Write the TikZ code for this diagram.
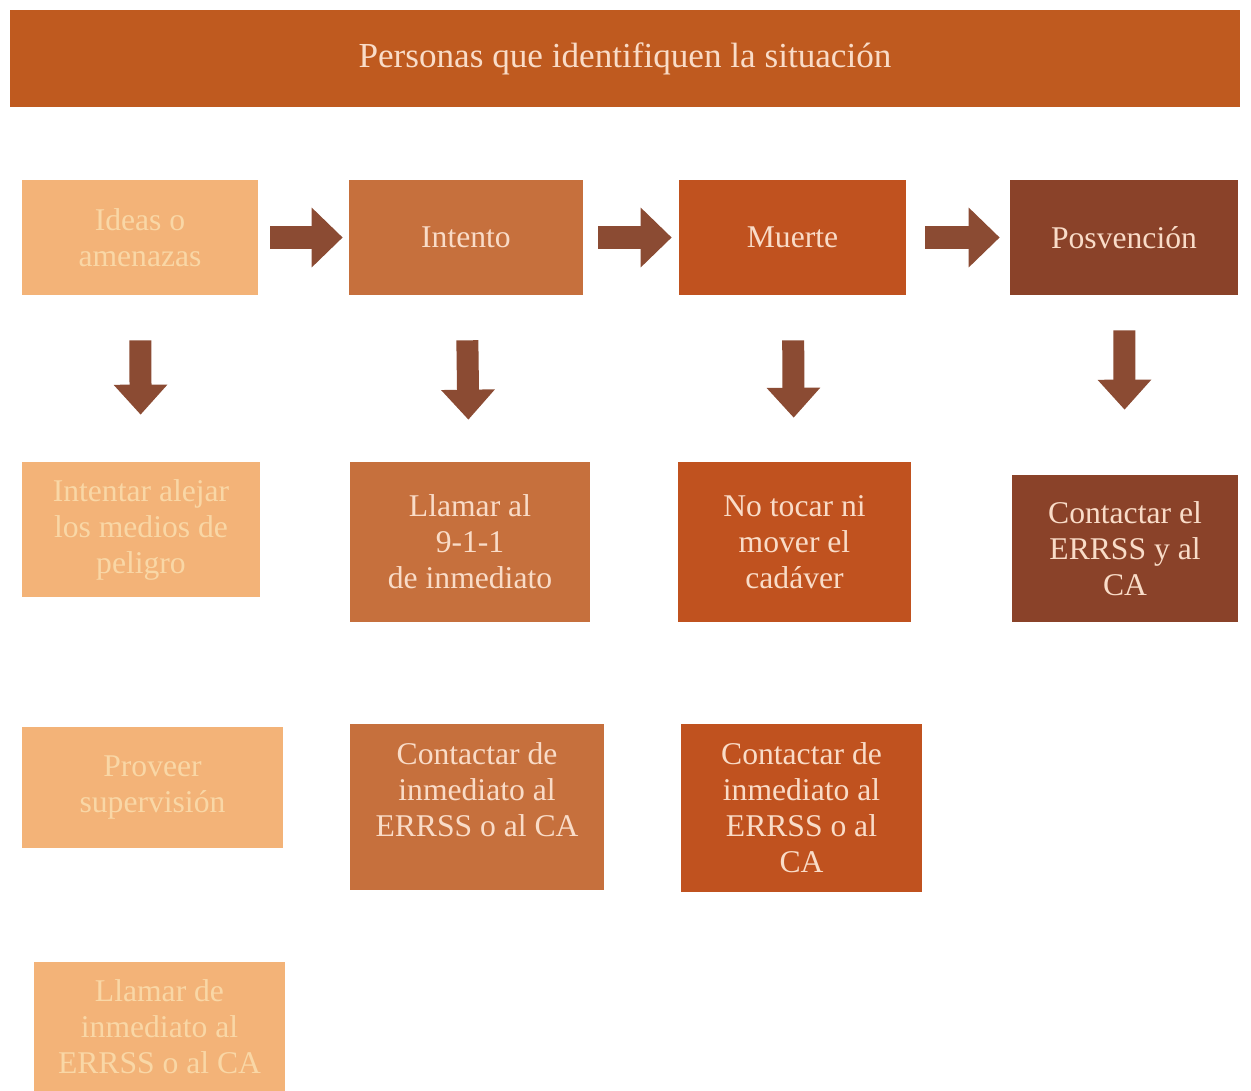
\documentclass[tikz,border=0pt]{standalone}
\usepackage{fontspec}
\setmainfont{Liberation Serif}
\usepackage{tikz}
\usetikzlibrary{arrows.meta}
\definecolor{titlec}{HTML}{BF5A1F}
\definecolor{lightc}{HTML}{F3B378}
\definecolor{midc}{HTML}{C6703D}
\definecolor{redc}{HTML}{C0521F}
\definecolor{darkc}{HTML}{8A4229}
\definecolor{arrowc}{HTML}{8B4B33}
\definecolor{paletxt}{HTML}{F9DCC8}
\definecolor{lighttxt}{HTML}{F9D7A6}
\tikzset{box/.style={inner sep=0pt, align=center, text=paletxt, font=\fontsize{18}{20.5}\selectfont},
  lightbox/.style={box, fill=lightc, text=lighttxt},
  midbox/.style={box, fill=midc},
  redbox/.style={box, fill=redc},
  darkbox/.style={box, fill=darkc},
  rarrow/.style={draw=arrowc, line width=0.48cm, -{Triangle[length=0.62cm, width=1.16cm]}},
  darrow/.style={draw=arrowc, line width=0.44cm, -{Triangle[length=0.6cm, width=1.04cm]}}}

\begin{document}
\begin{tikzpicture}[x=0.02cm, y=-0.02cm]      % 1 unit = 1 px of the reference
    \path[use as bounding box] (0, 0) rectangle (1251, 1091);

    \node[box,fill=titlec,text=paletxt,minimum width=24.6cm,minimum height=1.94cm,font=\fontsize{20}{24}\selectfont] at (625, 58.5) (title) {Personas que identifiquen la situación};

    % first row
    \node[lightbox,minimum width=4.72cm,minimum height=2.3cm] at (140, 237.5) (A1) {Ideas o\\amenazas};
    \node[midbox,minimum width=4.68cm,minimum height=2.3cm] at (466, 237.5) (B1) {Intento};
    \node[redbox,minimum width=4.54cm,minimum height=2.3cm] at (792.5, 237.5) (C1) {Muerte};
    \node[darkbox,minimum width=4.56cm,minimum height=2.3cm] at (1124, 237.5) (D1) {Posvención};

    % second row
    \node[lightbox,minimum width=4.76cm,minimum height=2.7cm] at (141, 529.5) (A2) {Intentar alejar\\los medios de\\peligro};
    \node[midbox,minimum width=4.8cm,minimum height=3.2cm] at (470, 542) (B2) {Llamar al\\9-1-1\\de inmediato};
    \node[redbox,minimum width=4.66cm,minimum height=3.2cm] at (794.5, 542) (C2) {No tocar ni\\mover el\\cadáver};
    \node[darkbox,minimum width=4.52cm,minimum height=2.94cm] at (1125, 548.5) (D2) {Contactar el\\ERRSS y al\\CA};

    % third and fourth row
    \node[lightbox,minimum width=5.22cm,minimum height=2.42cm] at (152.5, 787.5) (A3) {Proveer\\supervisión};
    \node[midbox,minimum width=5.08cm,minimum height=3.32cm,text depth=0.7cm] at (477, 807) (B3) {Contactar de\\inmediato al\\ERRSS o al CA};
    \node[redbox,minimum width=4.82cm,minimum height=3.36cm] at (801.5, 808) (C3) {Contactar de\\inmediato al\\ERRSS o al\\CA};
    \node[lightbox,minimum width=5.02cm,minimum height=2.58cm] at (159.5, 1026.5) (A4) {Llamar de\\inmediato al\\ERRSS o al CA};

    \draw[rarrow, shorten <=0.24cm, shorten >=0.12cm] (A1) -- (B1);
    \draw[rarrow, shorten <=0.3cm, shorten >=0.14cm] (B1) -- (C1);
    \draw[rarrow, shorten <=0.38cm, shorten >=0.2cm] (C1) -- (D1);

    \draw[darrow, shorten <=0.9cm, shorten >=0.94cm] (A1) -- (A2);
    \draw[darrow, shorten <=0.9cm, shorten >=0.84cm] (B1) -- (B2);
    \draw[darrow, shorten <=0.9cm, shorten >=0.88cm] (C1) -- (C2);
    \draw[darrow, shorten <=0.7cm, shorten >=1.3cm] (D1) -- (D2);
\end{tikzpicture}
\end{document}
